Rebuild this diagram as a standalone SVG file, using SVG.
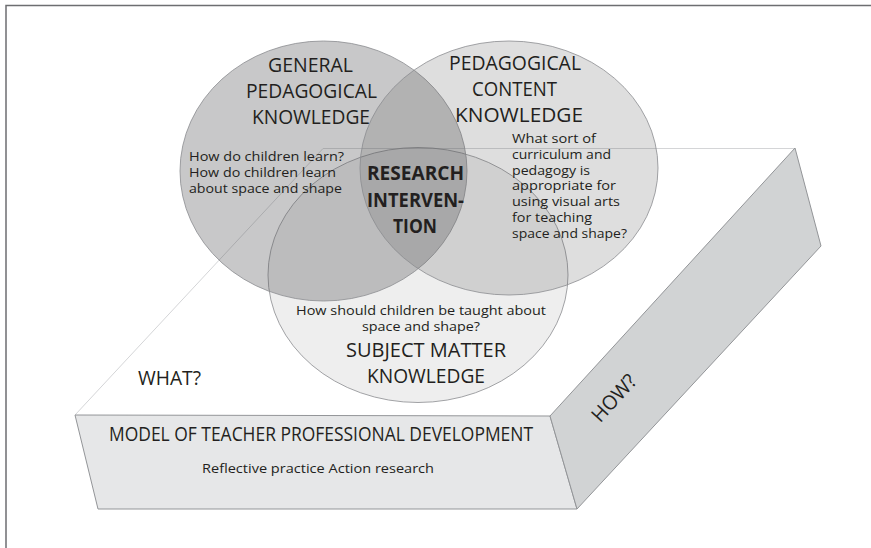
<svg xmlns="http://www.w3.org/2000/svg" width="871" height="548" viewBox="0 0 871 548">
<style>
text{font-family:"Open Sans","Noto Sans","Liberation Sans",sans-serif;fill:#231f20}
.big{font-size:20px}
.sm{font-size:13.5px}
.bold{font-size:19px;font-weight:bold}
.circ{stroke:#8a8c8f;stroke-width:0.8;fill:#58595b}
.edge{fill:none;stroke:#d4d5d7;stroke-width:1}
.face{stroke:#939598;stroke-width:1}
</style>
<rect x="0" y="0" width="871" height="548" fill="#ffffff"/>
<g id="frame">
<polyline points="6,548 6,5.5 871,5.5" fill="none" stroke="#6d6e71" stroke-width="1.5"/>
</g>
<g id="platform">
<polyline class="edge" points="75,415 323,148.5 795,148.5"/>
<polygon class="face" points="75,415 550,416 577,509 98,509" fill="#e6e7e8"/>
<polygon class="face" points="550,416 795,148 821,246 577,509" fill="#d1d3d4"/>
<text class="big" x="321" y="441" text-anchor="middle" textLength="424" lengthAdjust="spacingAndGlyphs">MODEL OF TEACHER PROFESSIONAL DEVELOPMENT</text>
<text class="sm" x="318" y="473" text-anchor="middle" textLength="232" lengthAdjust="spacingAndGlyphs">Reflective practice Action research</text>
<text class="big" x="614" y="405" text-anchor="middle" textLength="56" lengthAdjust="spacingAndGlyphs" transform="rotate(-47.6 614 398)">HOW?</text>
<text class="big" x="169.5" y="385" text-anchor="middle" textLength="63" lengthAdjust="spacingAndGlyphs">WHAT?</text>
</g>
<g id="subject-matter">
<ellipse class="circ" cx="418" cy="275" rx="150" ry="127.5" fill-opacity="0.1"/>
<text class="sm" x="421" y="315" text-anchor="middle" textLength="250" lengthAdjust="spacingAndGlyphs">How should children be taught about</text>
<text class="sm" x="421" y="331" text-anchor="middle" textLength="118" lengthAdjust="spacingAndGlyphs">space and shape?</text>
<text class="big" x="426" y="357" text-anchor="middle" textLength="160" lengthAdjust="spacingAndGlyphs">SUBJECT MATTER</text>
<text class="big" x="426" y="383" text-anchor="middle" textLength="118" lengthAdjust="spacingAndGlyphs">KNOWLEDGE</text>
</g>
<g id="general-pedagogical">
<ellipse class="circ" cx="323.5" cy="171" rx="143.5" ry="130" fill-opacity="0.33"/>
<text class="big" x="310.5" y="72" text-anchor="middle" textLength="85" lengthAdjust="spacingAndGlyphs">GENERAL</text>
<text class="big" x="311.5" y="98" text-anchor="middle" textLength="131" lengthAdjust="spacingAndGlyphs">PEDAGOGICAL</text>
<text class="big" x="311" y="124" text-anchor="middle" textLength="118" lengthAdjust="spacingAndGlyphs">KNOWLEDGE</text>
<text class="sm" x="189" y="161" textLength="155" lengthAdjust="spacingAndGlyphs">How do children learn?</text>
<text class="sm" x="189" y="177" textLength="147" lengthAdjust="spacingAndGlyphs">How do children learn</text>
<text class="sm" x="189" y="193" textLength="153" lengthAdjust="spacingAndGlyphs">about space and shape</text>
</g>
<g id="pedagogical-content">
<ellipse class="circ" cx="509" cy="168" rx="149" ry="127" fill-opacity="0.2"/>
<text class="big" x="515" y="70" text-anchor="middle" textLength="132" lengthAdjust="spacingAndGlyphs">PEDAGOGICAL</text>
<text class="big" x="514.5" y="96" text-anchor="middle" textLength="85" lengthAdjust="spacingAndGlyphs">CONTENT</text>
<text class="big" x="519" y="122" text-anchor="middle" textLength="128" lengthAdjust="spacingAndGlyphs">KNOWLEDGE</text>
<text class="sm" x="512" y="143" textLength="84" lengthAdjust="spacingAndGlyphs">What sort of</text>
<text class="sm" x="512" y="159" textLength="99" lengthAdjust="spacingAndGlyphs">curriculum and</text>
<text class="sm" x="512" y="175" textLength="78" lengthAdjust="spacingAndGlyphs">pedagogy is</text>
<text class="sm" x="512" y="190" textLength="104" lengthAdjust="spacingAndGlyphs">appropriate for</text>
<text class="sm" x="512" y="206" textLength="108" lengthAdjust="spacingAndGlyphs">using visual arts</text>
<text class="sm" x="512" y="222" textLength="80" lengthAdjust="spacingAndGlyphs">for teaching</text>
<text class="sm" x="512" y="238" textLength="115" lengthAdjust="spacingAndGlyphs">space and shape?</text>
</g>
<g id="research-intervention">
<text class="bold" x="415.5" y="180" text-anchor="middle" textLength="97" lengthAdjust="spacingAndGlyphs">RESEARCH</text>
<text class="bold" x="415.5" y="207" text-anchor="middle" textLength="97" lengthAdjust="spacingAndGlyphs">INTERVEN-</text>
<text class="bold" x="415" y="233" text-anchor="middle" textLength="44" lengthAdjust="spacingAndGlyphs">TION</text>
</g>
</svg>
